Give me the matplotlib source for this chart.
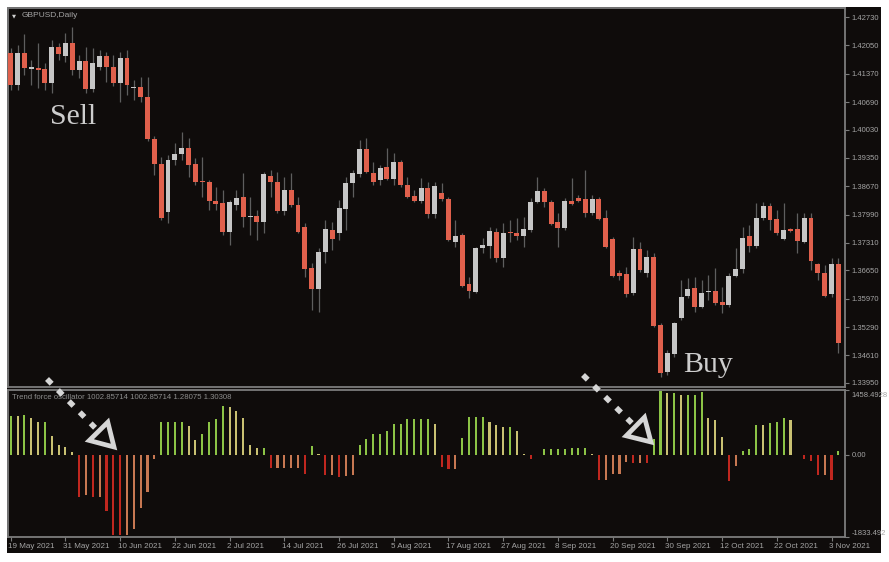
import matplotlib
matplotlib.use("Agg")
import matplotlib.pyplot as plt
import matplotlib.transforms as mtrans
import numpy as np
from matplotlib.lines import Line2D
from matplotlib.patches import Polygon, Rectangle

W, H, DPI = 889, 562, 100

# ---------------- data (GBPUSD daily) ----------------
opens = [1.41868, 1.41100, 1.41868, 1.41484, 1.41508, 1.41484, 1.41148, 1.42012, 1.41796, 1.42108,
         1.41460, 1.41676, 1.41004, 1.41532, 1.41796, 1.41532, 1.41148, 1.41748, 1.41028, 1.41052,
         1.40812, 1.39804, 1.39204, 1.38052, 1.39300, 1.39444, 1.39588, 1.39204, 1.38796, 1.38772,
         1.38316, 1.38268, 1.37572, 1.38220, 1.38412, 1.37932, 1.37956, 1.37812, 1.38916, 1.38772,
         1.38076, 1.38580, 1.38220, 1.37692, 1.36708, 1.36204, 1.37092, 1.37620, 1.37548, 1.38124,
         1.38748, 1.38964, 1.39564, 1.38988, 1.38820, 1.39132, 1.38844, 1.39252, 1.38700, 1.38436,
         1.38316, 1.38628, 1.38004, 1.38508, 1.38364, 1.37332, 1.37500, 1.36324, 1.36132, 1.37188,
         1.37236, 1.37572, 1.36948, 1.37572, 1.37548, 1.37476, 1.37620, 1.38292, 1.38556, 1.38292,
         1.37812, 1.37668, 1.38316, 1.38388, 1.38364, 1.38028, 1.38364, 1.37908, 1.37404, 1.36588,
         1.36564, 1.36108, 1.37164, 1.36588, 1.36972, 1.35340, 1.34212, 1.34644, 1.35508, 1.36036,
         1.36228, 1.35772, 1.36132, 1.36156, 1.35892, 1.35820, 1.36516, 1.36684, 1.37476, 1.37236,
         1.37908, 1.38196, 1.37884, 1.37404, 1.37644, 1.37644, 1.37332, 1.37908, 1.36804, 1.36588,
         1.36084, 1.36804]
highs = [1.41988, 1.42060, 1.42324, 1.41700, 1.42108, 1.41628, 1.42180, 1.42108, 1.42348, 1.42492,
         1.41820, 1.42012, 1.41988, 1.41940, 1.41892, 1.41820, 1.41892, 1.41940, 1.41220, 1.41292,
         1.41292, 1.39876, 1.39372, 1.39420, 1.39708, 1.39972, 1.39828, 1.39348, 1.39372, 1.38820,
         1.38652, 1.38580, 1.38340, 1.38580, 1.38988, 1.38412, 1.38100, 1.39012, 1.39060, 1.39012,
         1.38892, 1.38988, 1.38412, 1.37788, 1.36828, 1.37188, 1.37860, 1.37812, 1.38340, 1.38892,
         1.39060, 1.39780, 1.39828, 1.39252, 1.39180, 1.39588, 1.39468, 1.39300, 1.38892, 1.38580,
         1.38868, 1.38772, 1.38772, 1.38748, 1.38412, 1.37860, 1.37548, 1.36492, 1.37212, 1.37428,
         1.37692, 1.37668, 1.37788, 1.37860, 1.37908, 1.37932, 1.38388, 1.38892, 1.38628, 1.38340,
         1.38028, 1.38388, 1.38868, 1.38460, 1.39060, 1.38460, 1.38412, 1.38100, 1.37452, 1.36660,
         1.36732, 1.37452, 1.37332, 1.37140, 1.37068, 1.35388, 1.34740, 1.35412, 1.36420, 1.36468,
         1.36492, 1.36420, 1.36540, 1.36708, 1.36252, 1.36588, 1.37188, 1.37692, 1.37740, 1.38268,
         1.38292, 1.38268, 1.38100, 1.38268, 1.37668, 1.38028, 1.38028, 1.38028, 1.36828, 1.36780,
         1.36948, 1.36948]
lows = [1.40980, 1.40980, 1.41340, 1.41100, 1.41028, 1.40980, 1.40908, 1.41700, 1.41652, 1.41340,
        1.41268, 1.40908, 1.40932, 1.41460, 1.41172, 1.41076, 1.40692, 1.40860, 1.40740, 1.40692,
        1.39756, 1.38940, 1.37860, 1.37788, 1.39180, 1.39300, 1.38892, 1.38700, 1.38412, 1.38100,
        1.38100, 1.37500, 1.37260, 1.38100, 1.37692, 1.37500, 1.37380, 1.37548, 1.38412, 1.38028,
        1.37980, 1.38172, 1.37548, 1.36492, 1.35700, 1.35652, 1.36828, 1.37140, 1.37380, 1.37620,
        1.38412, 1.38892, 1.38988, 1.38700, 1.38700, 1.38820, 1.38700, 1.38652, 1.38388, 1.38292,
        1.38268, 1.37908, 1.37908, 1.38316, 1.37356, 1.37212, 1.36252, 1.35988, 1.36108, 1.37068,
        1.36948, 1.36852, 1.36732, 1.37332, 1.37380, 1.37212, 1.37572, 1.38268, 1.38172, 1.37740,
        1.37212, 1.37620, 1.38220, 1.38292, 1.37932, 1.37980, 1.37860, 1.37188, 1.36492, 1.36420,
        1.36012, 1.36060, 1.36612, 1.36492, 1.35292, 1.34092, 1.34140, 1.34572, 1.35460, 1.35988,
        1.35652, 1.35748, 1.35940, 1.35820, 1.35628, 1.35772, 1.36492, 1.36588, 1.37092, 1.37188,
        1.37860, 1.37620, 1.37500, 1.37380, 1.37572, 1.37068, 1.37308, 1.36660, 1.36420, 1.36012,
        1.36012, 1.34668]
closes = [1.41100, 1.41868, 1.41508, 1.41532, 1.41460, 1.41148, 1.42012, 1.41844, 1.42108, 1.41460,
          1.41676, 1.41004, 1.41628, 1.41796, 1.41532, 1.41148, 1.41748, 1.41100, 1.41052, 1.40812,
          1.39804, 1.39204, 1.37908, 1.39300, 1.39444, 1.39588, 1.39180, 1.38772, 1.38772, 1.38316,
          1.38244, 1.37572, 1.38292, 1.38388, 1.37932, 1.37956, 1.37812, 1.38964, 1.38772, 1.38076,
          1.38580, 1.38220, 1.37572, 1.36684, 1.36204, 1.37092, 1.37644, 1.37404, 1.38148, 1.38748,
          1.38988, 1.39564, 1.39012, 1.38772, 1.39108, 1.38844, 1.39252, 1.38700, 1.38412, 1.38316,
          1.38628, 1.38004, 1.38676, 1.38364, 1.37380, 1.37476, 1.36276, 1.36156, 1.37188, 1.37260,
          1.37596, 1.36948, 1.37548, 1.37548, 1.37476, 1.37644, 1.38292, 1.38556, 1.38292, 1.37764,
          1.37668, 1.38316, 1.38244, 1.38316, 1.38028, 1.38364, 1.37884, 1.37212, 1.36516, 1.36516,
          1.36084, 1.37164, 1.36660, 1.36972, 1.35316, 1.34188, 1.34668, 1.35388, 1.36012, 1.36204,
          1.35772, 1.36108, 1.36140, 1.35868, 1.35820, 1.36516, 1.36684, 1.37428, 1.37236, 1.37908,
          1.38196, 1.37860, 1.37548, 1.37620, 1.37596, 1.37356, 1.37908, 1.36876, 1.36588, 1.36036,
          1.36804, 1.34908]

# Trend force oscillator histogram
osc = [871, 860, 887, 830, 726, 726, 411, 226, 186, 65,
       -944, -903, -944, -930, -1250, -1791, -1800, -1785, -1646, -1186,
       -823, -97, 734, 734, 734, 734, 645, 323, 468, 734,
       807, 1097, 1073, 968, 831, 226, 145, 150, -298, -295,
       -293, -291, -289, -420, 202, 24, -444, -440, -484, -480,
       -460, 226, 347, 468, 468, 532, 694, 694, 791, 791,
       791, 791, 694, -274, -323, -320, 387, 855, 855, 855,
       734, 670, 613, 629, 532, 10, -97, -10, 121, 121,
       121, 121, 145, 145, 145, 8, -565, -560, -436, -420,
       -161, -177, -175, -177, 347, 1420, 1371, 1371, 1339, 1339,
       1339, 1395, 831, 774, 403, -581, -242, 81, 121, 670,
       660, 710, 734, 831, 774, -5, -97, -137, -444, -440,
       -565, 81]

date_labels = ["19 May 2021", "31 May 2021", "10 Jun 2021", "22 Jun 2021", "2 Jul 2021",
               "14 Jul 2021", "26 Jul 2021", "5 Aug 2021", "17 Aug 2021", "27 Aug 2021",
               "8 Sep 2021", "20 Sep 2021", "30 Sep 2021", "12 Oct 2021", "22 Oct 2021",
               "3 Nov 2021"]
date_bar_index = [0, 8, 16, 24, 32, 40, 48, 56, 64, 72, 80, 88, 96, 104, 112, 120]

price_ticks = [1.42730, 1.42050, 1.41370, 1.40690, 1.40030, 1.39350, 1.38670,
               1.37990, 1.37310, 1.36650, 1.35970, 1.35290, 1.34610, 1.33950]
price_tick_labels = ["1.42730", "1.42050", "1.41370", "1.40690", "1.40030", "1.39350", "1.38670",
                     "1.37990", "1.37310", "1.36650", "1.35970", "1.35290", "1.34610", "1.33950"]
osc_max, osc_min = 1458.4928, -1833.492
osc_tick_labels = ["1458.4928", "0.00", "-1833.492"]

symbol_title = "GBPUSD,Daily"
indicator_title = "Trend force oscillator 1002.85714 1002.85714 1.28075 1.30308"

# ---------------- style ----------------
BG = "#0f0c0b"
FRAME = "#7c7c7c"
TXT = "#a4a4a4"
BEAR = "#e0604c"
BULL = "#c6c6c6"
WICK = "#5e5e5e"
C_GREEN, C_YELLOW, C_RED, C_ORANGE = "#8cc446", "#c9c172", "#c0271f", "#c77852"
SMALL = "Liberation Sans"


def fx(x):
    return x / W


def fy(y):
    return 1 - y / H


fig = plt.figure(figsize=(W / DPI, H / DPI), dpi=DPI, facecolor="white")
bg_rect = Rectangle((fx(7), fy(553)), fx(881) - fx(7), fy(7) - fy(553),
                    transform=fig.transFigure, facecolor=BG, edgecolor="none", zorder=-10)
fig.add_artist(bg_rect)

L, R = 7.5, 845
ax1 = fig.add_axes([fx(L), fy(387), fx(R) - fx(L), fy(7.5) - fy(387)])
ax2 = fig.add_axes([fx(L), fy(537), fx(R) - fx(L), fy(389.5) - fy(537)])
ax1.set_zorder(1)
ax2.set_zorder(1)

n = len(closes)
x = np.arange(n)
o = np.array(opens); c = np.array(closes); hi = np.array(highs); lo = np.array(lows)
up = c >= o
body_lo = np.minimum(o, c)
body_h = np.maximum(np.abs(c - o), 0.00022)

for ax in (ax1, ax2):
    ax.set_facecolor(BG)
    for s in ax.spines.values():
        s.set_color(FRAME)
        s.set_linewidth(1.3)
    ax.set_xlim(-0.47, 121.97)

ax1.vlines(x, lo, hi, color=WICK, linewidth=0.9, zorder=2)
ax1.bar(x, body_h, bottom=body_lo, width=0.72,
        color=np.where(up, BULL, BEAR), edgecolor="none", zorder=3)
ax1.set_ylim(1.33852, 1.4296)
ax1.yaxis.tick_right()
ax1.set_yticks(price_ticks)
ax1.set_yticklabels(price_tick_labels)
ax1.set_xticks([])
ax1.tick_params(axis="y", colors=FRAME, labelcolor=TXT, labelsize=5.5, length=3, width=0.8, pad=2)
for t in ax1.get_yticklabels():
    t.set_fontfamily(SMALL)

# oscillator colours from direction of change
osc_arr = np.array(osc, dtype=float)
prev = np.concatenate([[0.0], osc_arr[:-1]])
cols = []
for v, p in zip(osc_arr, prev):
    if v >= 0:
        cols.append(C_GREEN if v >= p else C_YELLOW)
    else:
        cols.append(C_RED if v <= p else C_ORANGE)
ax2.bar(x, osc_arr, width=0.3, color=cols, edgecolor="none", zorder=3)
ax2.set_ylim(osc_min, osc_max)
ax2.yaxis.tick_right()
ax2.set_yticks([osc_max, 0.0, osc_min])
ax2.set_yticklabels(osc_tick_labels)
ax2.tick_params(axis="y", colors=FRAME, labelcolor=TXT, labelsize=5.5, length=3, width=0.8, pad=2)
yl = ax2.get_yticklabels()
yl[0].set_va("top")
yl[2].set_va("bottom")
shift_down = mtrans.ScaledTranslation(0, -2.5 / DPI, fig.dpi_scale_trans)
yl[0].set_transform(yl[0].get_transform() + shift_down)
for t in yl:
    t.set_fontfamily(SMALL)

ax2.set_xticks(date_bar_index)
ax2.set_xticklabels(date_labels, ha="left")
ax2.tick_params(axis="x", colors=FRAME, labelcolor=TXT, labelsize=5.8, length=3, width=0.8, pad=1.5)
shift_left = mtrans.ScaledTranslation(-2.5 / DPI, 0, fig.dpi_scale_trans)
for t in ax2.get_xticklabels():
    t.set_fontfamily(SMALL)
    t.set_transform(t.get_transform() + shift_left)

# titles
fig.text(fx(11.5), fy(15.5), "\u25BC", color="#d0d0d0", fontsize=3.8, va="center", ha="left",
         zorder=5)
fig.text(fx(21.5), fy(15.5), symbol_title, color=TXT, fontsize=6.0, va="center", ha="left",
         family=SMALL, zorder=5)
fig.text(fx(12.5), fy(397.5), indicator_title, color="#8c8c8c", fontsize=5.6, va="center",
         ha="left", family=SMALL, zorder=5)

# annotations
fig.text(fx(50), fy(123.5), "Sell", color="#cdcdcd", fontsize=21.5, family="Liberation Serif",
         va="baseline", ha="left", zorder=5)
fig.text(fx(683), fy(372.3), "Buy", color="#cdcdcd", fontsize=21.5, family="Liberation Serif",
         va="baseline", ha="left", zorder=5)


def dotted_arrow(x0, y0, tip_x, tip_y):
    d = np.array([tip_x - x0, tip_y - y0], dtype=float)
    d /= np.hypot(*d)
    nrm = np.array([d[1], -d[0]])
    tip = np.array([tip_x, tip_y], dtype=float)
    base = tip - 22 * d
    end = base - 5 * d
    fig.add_artist(Line2D([fx(x0), fx(end[0])], [fy(y0), fy(end[1])], transform=fig.transFigure,
                          color="#d6d6d6", linewidth=4.0, linestyle=(0, (1.2, 1.6)),
                          dash_capstyle="butt", zorder=10))
    p1 = base + 13 * nrm
    p2 = base - 13 * nrm
    tri = Polygon([[fx(tip[0]), fy(tip[1])], [fx(p1[0]), fy(p1[1])], [fx(p2[0]), fy(p2[1])]],
                  closed=True, transform=fig.transFigure, facecolor=BG,
                  edgecolor="#d6d6d6", linewidth=3.4, joinstyle="miter", zorder=10)
    fig.add_artist(tri)


dotted_arrow(47, 379, 114, 447)
dotted_arrow(583, 375, 651, 442)

fig.savefig("out.png", dpi=DPI, facecolor=fig.get_facecolor())
